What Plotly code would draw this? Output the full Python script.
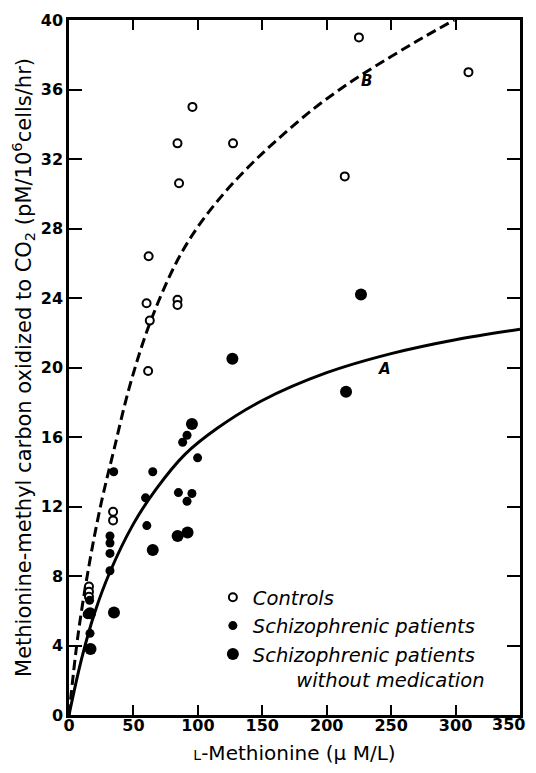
import plotly.graph_objects as go

# ---- data ----
controls_x = [95.8, 84.2, 127.3, 85.4, 61.8, 60.2, 84.2, 84.2, 62.7, 61.4,
              225.0, 310.0, 214.0, 34.2, 34.2, 15.5, 15.5, 15.5, 14.5]
controls_y = [35.0, 32.9, 32.9, 30.6, 26.4, 23.7, 23.9, 23.6, 22.7, 19.8,
              39.0, 37.0, 31.0, 11.7, 11.2, 7.4, 7.1, 6.8, 5.8]

patients_x = [34.7, 65.0, 59.4, 60.4, 88.2, 91.6, 99.8, 84.9, 95.4, 91.6,
              31.8, 31.8, 31.8, 31.8, 16.0, 16.3]
patients_y = [14.0, 14.0, 12.5, 10.9, 15.7, 16.1, 14.8, 12.8, 12.75, 12.3,
              10.3, 9.9, 9.3, 8.3, 6.6, 4.7]

nomed_x = [126.8, 226.6, 215.0, 95.4, 84.3, 92.0, 65.0, 34.9, 16.3, 16.7]
nomed_y = [20.5, 24.2, 18.6, 16.75, 10.3, 10.5, 9.5, 5.9, 5.85, 3.8]

# fitted curves
curveA_x = [0, 10, 20, 31.6, 50, 67.6, 90, 115, 150, 200, 250, 300, 350]
curveA_y = [0, 3.3, 5.9, 8.2, 11.0, 13.0, 15.0, 16.5, 18.1, 19.7, 20.8, 21.6, 22.2]

curveB_x = [0, 7, 16, 25, 35, 47, 62.5, 83, 100, 120, 140, 160, 190, 220, 250, 275, 299]
curveB_y = [0, 4.6, 8.8, 12.2, 15.3, 18.9, 22.5, 26.0, 28.1, 30.0, 31.6, 33.0, 34.9, 36.5, 37.9, 39.0, 40.0]

x_ticks = [0, 50, 100, 150, 200, 250, 300, 350]
x_tick_labels = ["0", "50", "100", "150", "200", "250", "300", ""]
last_x_label = "350"   # drawn separately so it sits inside the page edge, as in the reference
y_ticks = [0, 4, 8, 12, 16, 20, 24, 28, 32, 36, 40]

label_A = (245, 19.9)
label_B = (231, 36.5)

fig = go.Figure()

fig.add_trace(go.Scatter(x=curveB_x, y=curveB_y, mode="lines", showlegend=False,
                         line=dict(color="black", width=3, dash="10px,5px", shape="spline", smoothing=1.0),
                         hoverinfo="skip"))
fig.add_trace(go.Scatter(x=curveA_x, y=curveA_y, mode="lines", showlegend=False,
                         line=dict(color="black", width=3, shape="spline", smoothing=1.0),
                         hoverinfo="skip"))

fig.add_trace(go.Scatter(x=controls_x, y=controls_y, mode="markers", name="Controls",
                         marker=dict(symbol="circle", size=8, color="white",
                                     line=dict(color="black", width=2))))
fig.add_trace(go.Scatter(x=patients_x, y=patients_y, mode="markers",
                         name="Schizophrenic patients",
                         marker=dict(symbol="circle", size=9, color="black")))
fig.add_trace(go.Scatter(x=nomed_x, y=nomed_y, mode="markers",
                         name="Schizophrenic patients<br>" + "\u00a0" * 7 + "without medication",
                         marker=dict(symbol="circle", size=12, color="black")))

for (lx, ly), txt in [(label_A, "A"), (label_B, "B")]:
    fig.add_annotation(x=lx, y=ly, text=txt, showarrow=False,
                       font=dict(family="DejaVu Sans", size=15, color="black",
                                 style="italic", weight="bold"))

tick_font = dict(family="DejaVu Sans", size=16, color="black", weight="bold")

fig.add_annotation(x=1.0155, y=0, xref="paper", yref="paper", xanchor="right",
                   yanchor="middle", yshift=-9, text=last_x_label, showarrow=False,
                   font=tick_font)

axis_common = dict(showline=True, linecolor="black", linewidth=2.5, mirror="ticks",
                   ticks="inside", tickcolor="black", tickwidth=2,
                   showgrid=False, zeroline=False, automargin=False,
                   tickfont=tick_font)

fig.update_xaxes(range=[0, 350], tickvals=x_ticks, ticktext=x_tick_labels, ticklen=10,
                 ticklabelstandoff=-6,
                 title=dict(text="<span style='font-size:14px'>L</span>-Methionine (\u03bc M/L)",
                            font=dict(family="DejaVu Sans", size=20, color="black"), standoff=14),
                 **axis_common)
fig.update_yaxes(range=[0, 40], tickvals=y_ticks, ticklen=13, ticklabelstandoff=0,
                 title=dict(text="Methionine-methyl carbon oxidized to CO<sub>2</sub> (pM/10<sup>6</sup>cells/hr)",
                            font=dict(family="DejaVu Sans", size=21, color="black"), standoff=6),
                 **axis_common)

# the page body has an 8px default margin, so the figure is sized/offset for it
fig.update_layout(
    width=520, height=757,
    margin=dict(l=61, r=8, t=12, b=50, autoexpand=False),
    plot_bgcolor="white", paper_bgcolor="white",
    legend=dict(x=0.319, y=0.197, xanchor="left", yanchor="top", valign="top",
                bgcolor="rgba(0,0,0,0)",
                font=dict(family="DejaVu Sans", size=19.5, color="black", style="italic")),
)

fig.write_html("out.html")
